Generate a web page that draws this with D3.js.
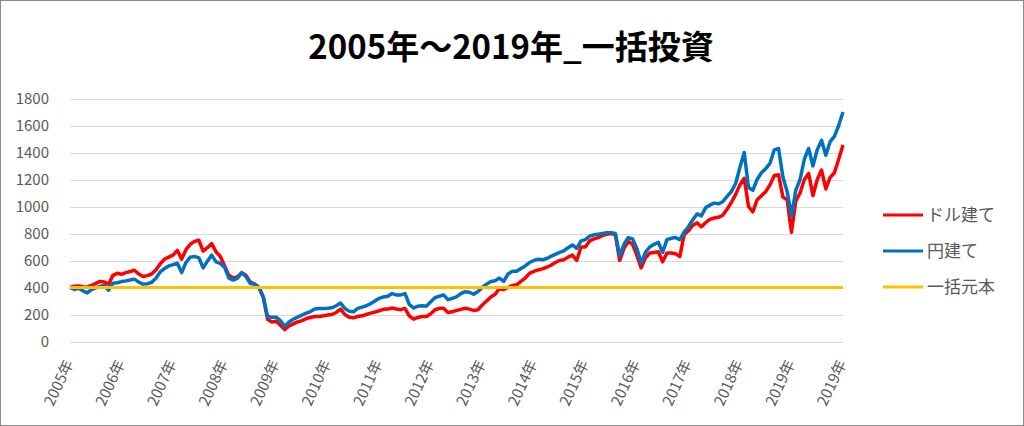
<!DOCTYPE html>
<html><head><meta charset="utf-8">
<script src="https://cdn.jsdelivr.net/npm/d3@7"></script>
<style>
html,body{margin:0;padding:0;background:#fff;}
svg{display:block;}
</style></head>
<body>
<svg id="chart" width="1024" height="426"></svg>
<script>
// ---- data ----
const title = "2005年～2019年_一括投資";
const startYear = 2005; // monthly values, first value = Jan 2005, last = Jan 2020
const usdValues = [
  400, 410, 412, 405, 402, 415, 430, 445, 440, 425, 490, 505,
  498, 510, 518, 528, 500, 482, 488, 500, 530, 575, 610, 625,
  640, 675, 610, 680, 720, 742, 750, 670, 695, 725, 665, 630,
  560, 490, 470, 480, 510, 490, 440, 425, 400, 330, 165, 145,
  150, 120, 88, 115, 130, 145, 155, 170, 178, 185, 185, 190,
  196, 200, 215, 240, 200, 180, 175, 185, 190, 200, 210, 218,
  228, 238, 240, 248, 240, 236, 245, 190, 165, 178, 185, 185,
  205, 235, 246, 246, 215, 220, 230, 238, 246, 240, 230, 235,
  270, 300, 330, 350, 395, 385, 400, 415, 420, 445, 470, 505,
  520, 530, 538, 550, 565, 585, 600, 605, 625, 640, 600, 700,
  700, 745, 760, 770, 785, 795, 800, 790, 600, 690, 740, 720,
  640, 545, 620, 655, 660, 665, 590, 655, 655, 650, 630, 790,
  820, 860, 880, 850, 880, 905, 915, 920, 935, 980, 1030, 1090,
  1160, 1209, 1000, 960, 1050, 1080, 1110, 1160, 1230, 1235, 1070, 1050,
  810, 1040, 1100, 1200, 1245, 1080, 1200, 1270, 1130, 1215, 1250, 1350,
  1456
];
const jpyValues = [
  400, 385, 395, 375, 360, 385, 398, 408, 415, 380, 432, 435,
  444, 449, 455, 462, 440, 425, 428, 438, 468, 515, 540, 560,
  570, 580, 510, 585, 625, 630, 620, 545, 595, 640, 590, 578,
  550, 470, 455, 470, 510, 480, 430, 425, 400, 330, 185, 180,
  180, 155, 112, 145, 165, 180, 195, 210, 222, 240, 245, 245,
  246, 250, 265, 285, 245, 225, 220, 245, 255, 265, 280, 300,
  320, 330, 335, 355, 345, 345, 355, 275, 248, 262, 265, 262,
  295, 325, 335, 345, 310, 320, 330, 355, 369, 365, 350, 370,
  400, 425, 445, 450, 470, 445, 500, 520, 520, 540, 560, 585,
  600, 610, 605, 615, 630, 645, 660, 672, 695, 715, 690, 745,
  755, 780, 790, 795, 800, 805, 805, 800, 635, 720, 770, 760,
  690, 580, 660, 700, 720, 735, 660, 755, 765, 770, 755, 810,
  850, 900, 945, 930, 990, 1010, 1025, 1020, 1035, 1075, 1110, 1170,
  1290, 1400, 1140, 1120, 1200, 1250, 1280, 1320, 1420, 1430, 1220, 1110,
  930, 1120, 1200, 1350, 1430, 1300, 1420, 1490, 1380, 1480, 1520, 1600,
  1700
];
const principal = 400;
const xTickLabels = ["2005年","2006年","2007年","2008年","2009年","2010年","2011年","2012年",
  "2013年","2014年","2015年","2016年","2017年","2018年","2019年","2019年"];
const yTicks = [0,200,400,600,800,1000,1200,1400,1600,1800];
const seriesNames = ["ドル建て","円建て","一括元本"];
const seriesColors = ["#FF0000","#0070C0","#FFC000"];

// ---- drawing ----
const svg = d3.select("#chart");
const W = 1024, H = 426;
const plot = {left:70, right:843, top:98.5, bottom:341.5};

svg.append("rect").attr("x",0.5).attr("y",0.5).attr("width",W-1).attr("height",H-1)
  .attr("fill","#fff").attr("stroke","#8c8c8c").attr("stroke-width",1);

const x = d3.scaleLinear().domain([startYear, startYear + xTickLabels.length - 1]).range([plot.left, plot.right]);
const y = d3.scaleLinear().domain([0,1800]).range([plot.bottom, plot.top]);

// gridlines
svg.append("g").selectAll("line").data(yTicks).join("line")
  .attr("x1",plot.left).attr("x2",plot.right)
  .attr("y1",d=>Math.round(y(d))+0.5).attr("y2",d=>Math.round(y(d))+0.5)
  .attr("stroke","#d9d9d9").attr("stroke-width",1);

const fontFam = "'Noto Sans CJK JP','Noto Sans',sans-serif";

// y axis labels
const yAxis = d3.axisLeft(y).tickValues(yTicks).tickFormat(d3.format("d")).tickSize(0).tickPadding(0);
const gy = svg.append("g").attr("transform",`translate(49,0)`).call(yAxis);
gy.select(".domain").remove();
gy.selectAll("text").attr("fill","#595959").style("font-family",fontFam).style("font-size","15px");

// x axis labels
const xAxis = d3.axisBottom(x).tickValues(d3.range(xTickLabels.length).map(i=>startYear+i))
  .tickFormat((d,i)=>xTickLabels[i]).tickSize(0).tickPadding(0);
const gx = svg.append("g").call(xAxis);
gx.select(".domain").remove();
gx.selectAll(".tick").attr("transform",d=>`translate(${x(d)-1},361)`);
gx.selectAll("text")
  .attr("y",0).attr("dy","0.35em")
  .attr("transform","rotate(-65)")
  .attr("text-anchor","end")
  .attr("fill","#595959").style("font-family",fontFam).style("font-size","15px");

// series
const usdData = usdValues.map((v,i)=>({t:startYear+i/12, v}));
const jpyData = jpyValues.map((v,i)=>({t:startYear+i/12, v}));
const principalData = usdValues.map((v,i)=>({t:startYear+i/12, v:principal}));
const line = d3.line().x(d=>x(d.t)).y(d=>y(d.v)).curve(d3.curveLinear);

[usdData, jpyData, principalData].forEach((data,k)=>{
  svg.append("path").datum(data).attr("d",line)
    .attr("fill","none").attr("stroke",seriesColors[k]).attr("stroke-width",k<2?3.5:3)
    .attr("stroke-linejoin","round");
});

// title
svg.append("text").attr("x",511).attr("y",59).attr("text-anchor","middle")
  .style("font-family",fontFam).style("font-weight","bold").style("font-size","33px")
  .attr("fill","#000").text(title);

// legend
const legY = [215,251,287];
const lg = svg.append("g");
seriesNames.forEach((name,k)=>{
  lg.append("line").attr("x1",883).attr("x2",923).attr("y1",legY[k]).attr("y2",legY[k])
    .attr("stroke",seriesColors[k]).attr("stroke-width",3);
  lg.append("text").attr("x",927).attr("y",legY[k]).attr("dy","0.35em")
    .attr("fill","#595959").style("font-family",fontFam).style("font-size","17px").text(name);
});
</script>
</body></html>
